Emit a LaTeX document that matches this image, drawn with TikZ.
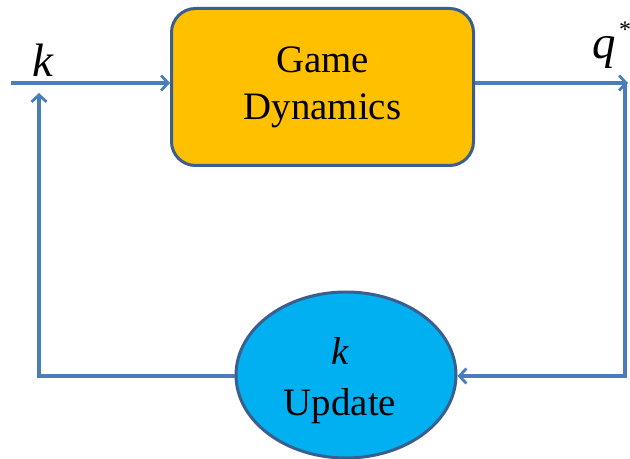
\documentclass[tikz,border=0pt]{standalone}
\usepackage{fontspec}
\setmainfont{Liberation Serif}
\usetikzlibrary{arrows.meta,shapes.geometric}
\definecolor{wire}{HTML}{4A7EBB}
\definecolor{rim}{HTML}{3A5F8E}
\definecolor{gold}{HTML}{FFC000}
\definecolor{sky}{HTML}{00B0F0}
\tikzset{
  wireline/.style={draw=wire, line width=3.2bp},
  tip/.style={-{Straight Barb[length=7bp,width=15bp,line width=2.8bp]}},
  blockbox/.style={draw=rim, line width=3bp, fill=gold, rounded corners=24bp,
    minimum width=302bp, minimum height=157bp, inner sep=0pt, align=center,
    font=\fontsize{39}{47}\selectfont},
  updbox/.style={ellipse, draw=rim, line width=3bp, fill=sky,
    minimum width=220bp, minimum height=166bp, inner sep=0pt},
  updtext/.style={inner sep=0pt, align=center, font=\fontsize{39}{51}\selectfont},
  symlabel/.style={inner sep=0pt, font=\fontsize{47}{50}\selectfont\itshape}
}
\begin{document}
\begin{tikzpicture}[x=1bp,y=-1bp]
  \useasboundingbox (0,0) rectangle (630,459);
  % blocks
  \node[blockbox] (gd) at (322.5,87) {Game\\Dynamics};
  \node[updbox] (up) at (346,375) {};
  \node[updtext] (uptext) at (340,381) {\itshape k\\Update};
  % corner points of the loop
  \coordinate (in) at (11,83);
  \coordinate (out) at (628,83);
  \coordinate (rt) at (625,83);
  \coordinate (rb) at (625,376);
  \coordinate (lb) at (39,376);
  \coordinate (lt) at (39,93);
  % labels
  \node[symlabel] (klab) at (43,60) {k};
  \node[symlabel] (qlab) at (604,52) {q};
  \node[inner sep=0pt, font=\fontsize{24}{26}\selectfont] (star) at (625,30) {*};
  % connectors
  \draw[wireline, tip] (in) -- (gd.west |- in);
  \draw[wireline, tip] (gd.east |- out) -- (out);
  \draw[wireline, tip] (rt) -- (rb) -- (up.east |- rb);
  \draw[wireline, tip] (up.west |- lb) -- (lb) -- (lt);
\end{tikzpicture}
\end{document}
